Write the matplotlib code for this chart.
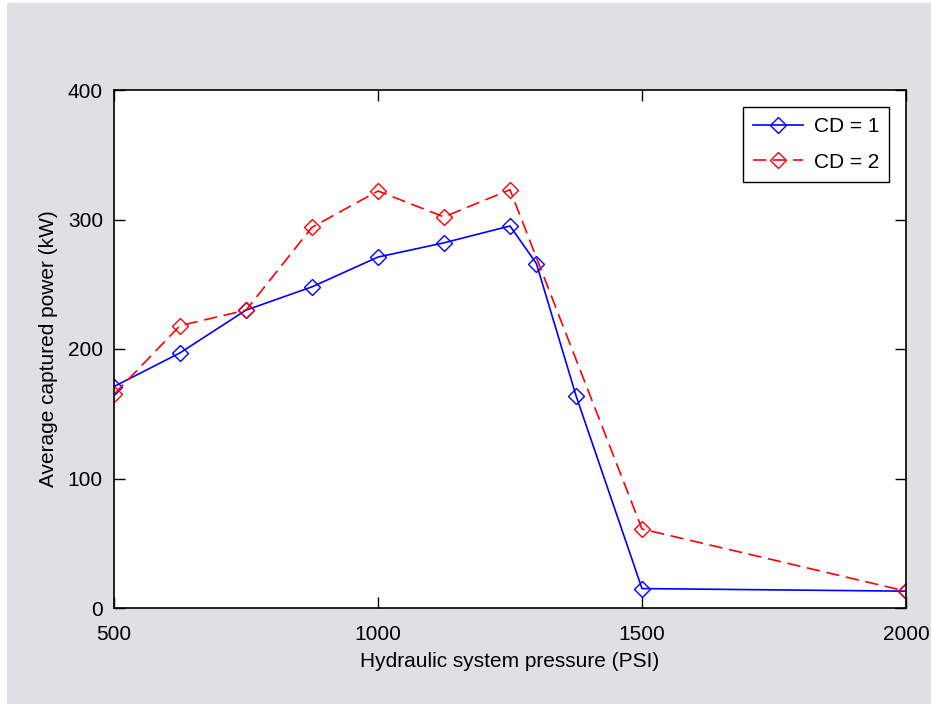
import numpy as np
import matplotlib.pyplot as plt
from matplotlib.patches import Rectangle

plt.rcParams['font.family'] = ['Liberation Sans', 'DejaVu Sans']
plt.rcParams['font.size'] = 15
plt.rcParams['xtick.direction'] = 'in'
plt.rcParams['ytick.direction'] = 'in'

# data
pressure_cd1 = [500, 625, 750, 875, 1000, 1125, 1250, 1300, 1375, 1500, 2000]
power_cd1 = [171, 197, 230, 248, 271, 282, 295, 266, 164, 15, 13]
pressure_cd2 = [500, 625, 750, 875, 1000, 1125, 1250, 1500, 2000]
power_cd2 = [165, 218, 230, 294, 322, 302, 323, 61, 13]

bg = '#e0dfe4'

fig = plt.figure(figsize=(9.31, 7.04), dpi=100, facecolor='white')
# screenshot-like gray panel with a thin white edge on left/top
fig.patches.append(Rectangle((7 / 931, 0), 1, 1 - 3 / 704, transform=fig.transFigure,
                             facecolor=bg, edgecolor='none', zorder=-10))

ax = fig.add_axes([114 / 931, 96 / 704, 792 / 931, 518 / 704])
ax.plot(pressure_cd1, power_cd1, color='blue', marker='D', markersize=8.5,
        markerfacecolor='none', markeredgecolor='blue', linewidth=1.2, label='CD = 1')
ax.plot(pressure_cd2, power_cd2, color='red', marker='D', markersize=8.5,
        markerfacecolor='none', markeredgecolor='red', linewidth=1.2,
        linestyle=(0, (8, 4)), label='CD = 2')

ax.set_xlim(500, 2000)
ax.set_ylim(0, 400)
ax.set_xticks([500, 1000, 1500, 2000])
ax.set_yticks([0, 100, 200, 300, 400])
ax.tick_params(top=True, right=True, length=8, width=1, labelsize=15)
ax.tick_params(axis='x', pad=12)
ax.tick_params(axis='y', pad=8)
for s in ax.spines.values():
    s.set_linewidth(1.2)

ax.set_xlabel('Hydraulic system pressure (PSI)', fontsize=15, labelpad=6)
ax.set_ylabel('Average captured power (kW)', fontsize=15, labelpad=7)

leg = ax.legend(loc='upper right', fontsize=15, fancybox=False, framealpha=1,
                edgecolor='black', borderaxespad=0.8, handlelength=2.4,
                handletextpad=0.5, labelspacing=0.8, borderpad=0.5)
leg.get_frame().set_linewidth(1.0)

fig.savefig('out.png', dpi=100, facecolor=fig.get_facecolor())
